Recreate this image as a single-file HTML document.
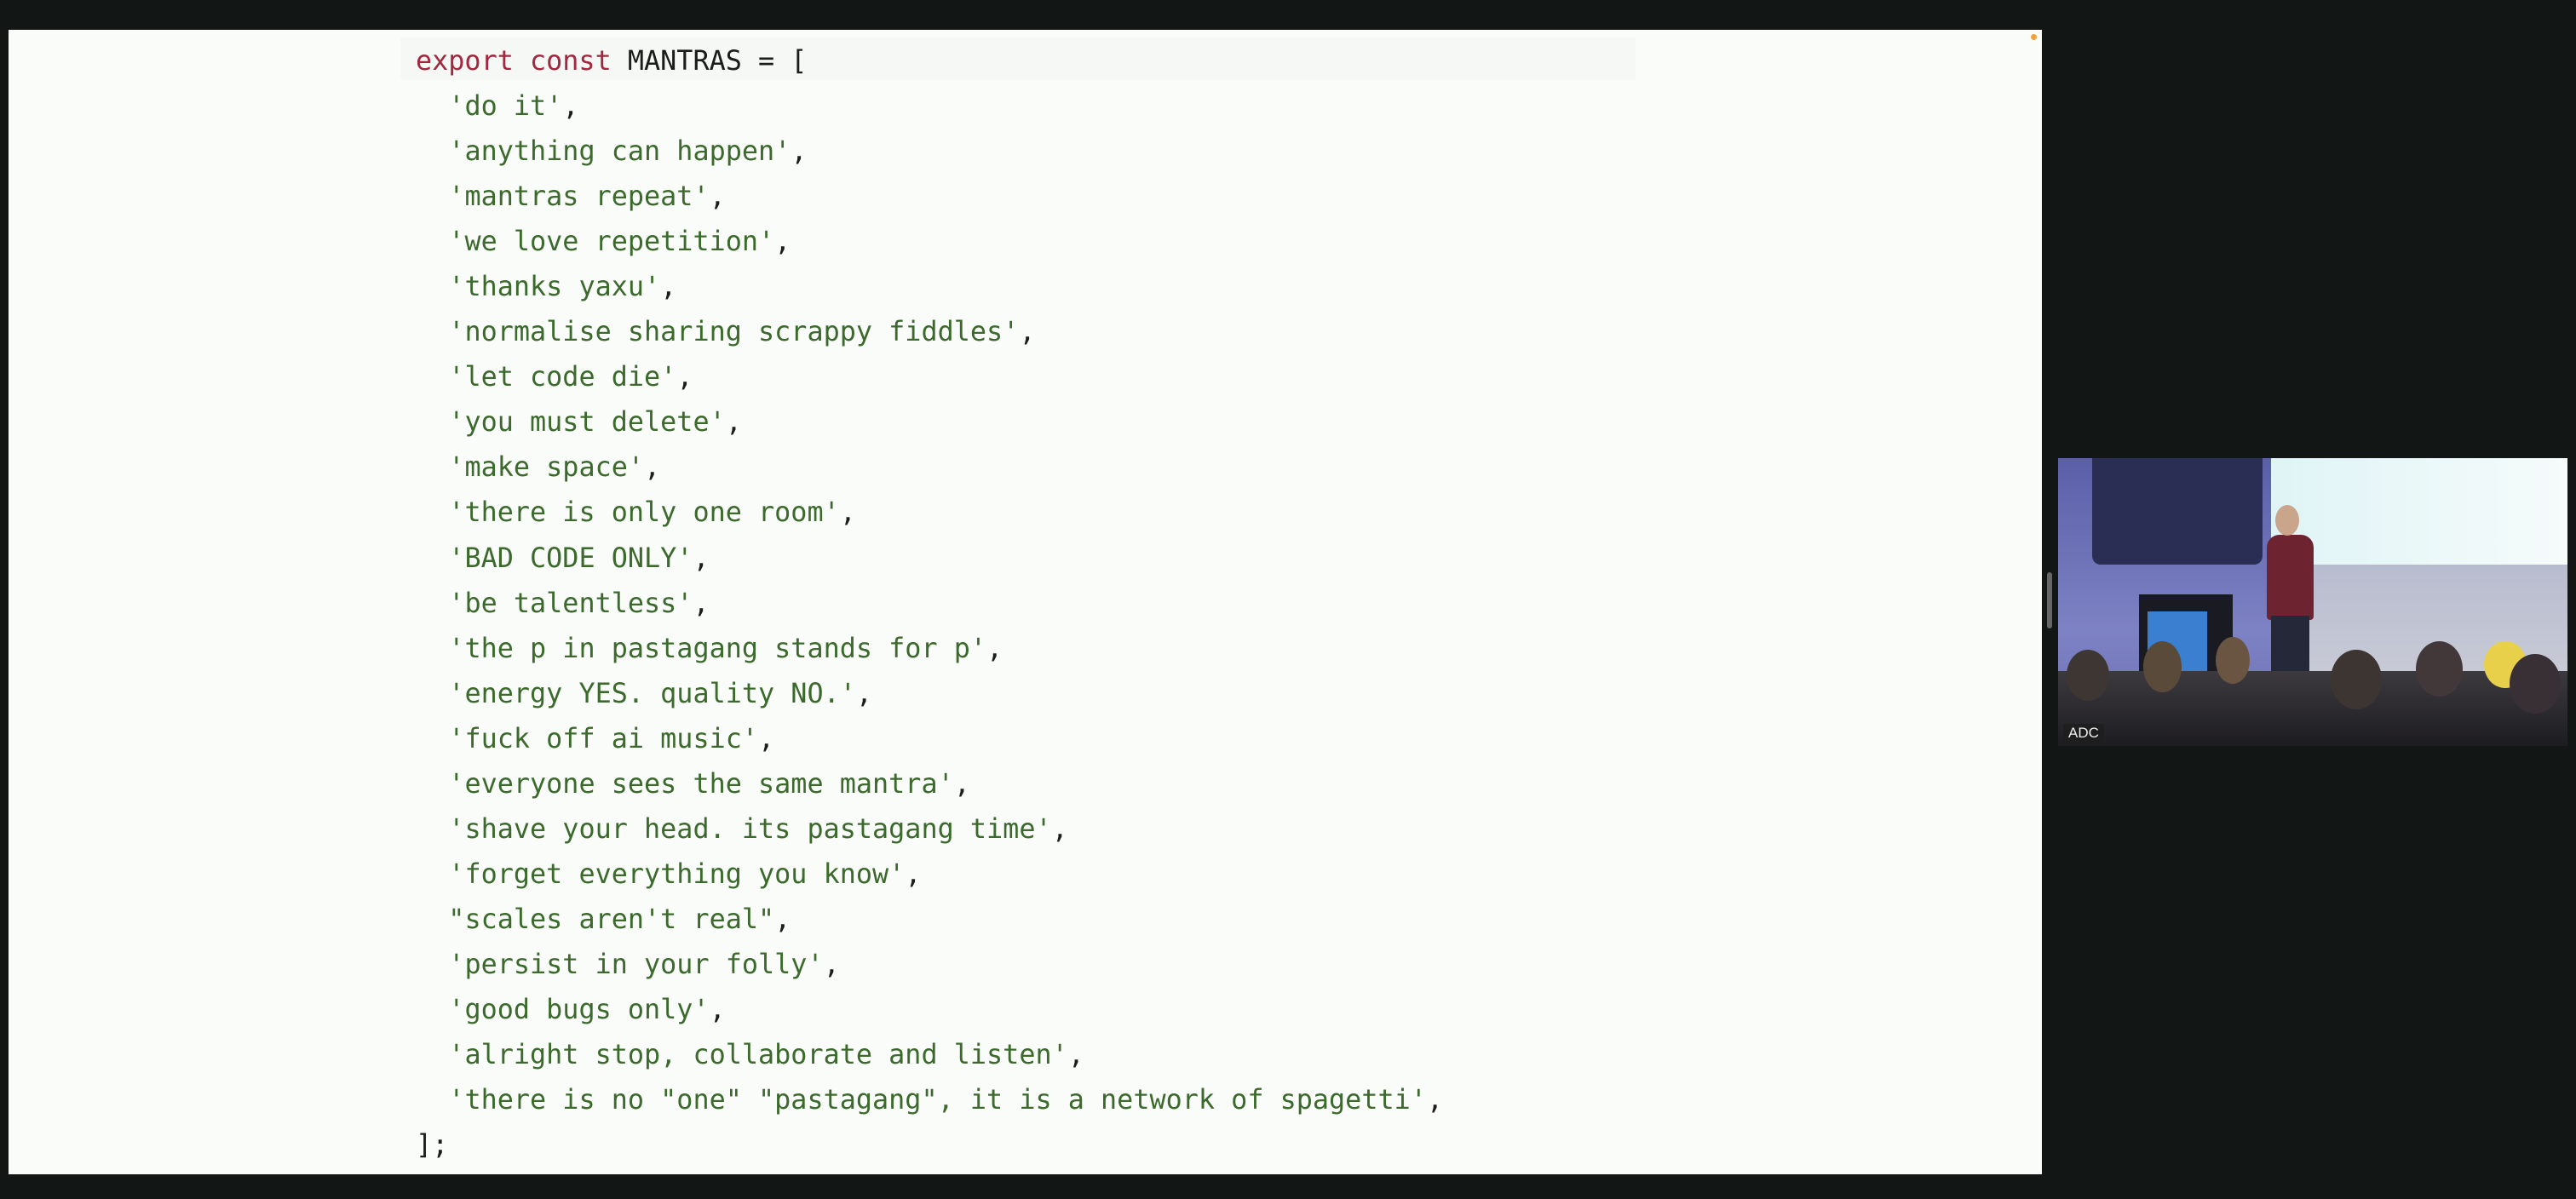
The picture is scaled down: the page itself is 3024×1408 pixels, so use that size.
<!DOCTYPE html>
<html><head><meta charset="utf-8"><style>
html,body{margin:0;padding:0;}
body{width:3024px;height:1408px;background:#121615;position:relative;overflow:hidden;}
#panel{position:absolute;left:10px;top:35px;width:2387px;height:1344px;background:#fafcfa;}
#hl{position:absolute;left:470px;top:44px;width:1450px;height:50px;background:#f6f8f6;}
#code{position:absolute;left:488px;top:45px;font-family:"DejaVu Sans Mono","Liberation Mono",monospace;font-size:31.8px;line-height:53.04px;white-space:pre;color:#1c1c1c;}
.k{color:#a1283f}.s{color:#3b6a2c}
#dot{position:absolute;left:2384px;top:40px;width:7px;height:7px;border-radius:50%;background:#f0a040;}
#vid{position:absolute;left:2416px;top:538px;width:598px;height:338px;overflow:hidden;background:#6a6fae;}
#sb{position:absolute;left:2403px;top:672px;width:6px;height:66px;background:#666;border-radius:3px;}
.b{position:absolute;}
</style></head><body>
<div id="panel"></div>
<div id="hl"></div>
<div id="dot"></div>
<div id="code"><span class="k">export const</span> MANTRAS = [
  <span class="s">'do it'</span>,
  <span class="s">'anything can happen'</span>,
  <span class="s">'mantras repeat'</span>,
  <span class="s">'we love repetition'</span>,
  <span class="s">'thanks yaxu'</span>,
  <span class="s">'normalise sharing scrappy fiddles'</span>,
  <span class="s">'let code die'</span>,
  <span class="s">'you must delete'</span>,
  <span class="s">'make space'</span>,
  <span class="s">'there is only one room'</span>,
  <span class="s">'BAD CODE ONLY'</span>,
  <span class="s">'be talentless'</span>,
  <span class="s">'the p in pastagang stands for p'</span>,
  <span class="s">'energy YES. quality NO.'</span>,
  <span class="s">'fuck off ai music'</span>,
  <span class="s">'everyone sees the same mantra'</span>,
  <span class="s">'shave your head. its pastagang time'</span>,
  <span class="s">'forget everything you know'</span>,
  <span class="s">"scales aren't real"</span>,
  <span class="s">'persist in your folly'</span>,
  <span class="s">'good bugs only'</span>,
  <span class="s">'alright stop, collaborate and listen'</span>,
  <span class="s">'there is no "one" "pastagang", it is a network of spagetti'</span>,
];</div>
<div id="sb"></div>
<div id="vid">
  <div class="b" style="left:0;top:0;width:260px;height:338px;background:linear-gradient(180deg,#5a5fa8,#7d82c4 60%,#6b6fb0);"></div>
  <div class="b" style="left:40px;top:0;width:200px;height:125px;background:#2a2e55;border-radius:0 0 10px 10px;"></div>
  <div class="b" style="left:250px;top:0;width:348px;height:125px;background:linear-gradient(90deg,#dff4f6,#f6fbfb);"></div>
  <div class="b" style="left:250px;top:125px;width:348px;height:140px;background:linear-gradient(180deg,#b8bccf,#c9ccd6);"></div>
  <div class="b" style="left:95px;top:160px;width:110px;height:120px;background:#1a1a22;"></div>
  <div class="b" style="left:105px;top:180px;width:70px;height:80px;background:#3a7fd0;"></div>
  <div class="b" style="left:245px;top:90px;width:55px;height:100px;background:#6e2430;border-radius:15px 15px 4px 4px;"></div>
  <div class="b" style="left:250px;top:185px;width:45px;height:145px;background:#252838;"></div>
  <div class="b" style="left:255px;top:55px;width:28px;height:36px;background:#c9a58c;border-radius:50%;"></div>
  <div class="b" style="left:0;top:250px;width:598px;height:88px;background:linear-gradient(180deg,#3c3a3e,#1d1c20);"></div>
  <div class="b" style="left:10px;top:225px;width:50px;height:60px;background:#3e3632;border-radius:50%;"></div>
  <div class="b" style="left:100px;top:215px;width:45px;height:60px;background:#5a4a3a;border-radius:50%;"></div>
  <div class="b" style="left:185px;top:210px;width:40px;height:55px;background:#6a5542;border-radius:50%;"></div>
  <div class="b" style="left:320px;top:225px;width:60px;height:70px;background:#3d3532;border-radius:50%;"></div>
  <div class="b" style="left:420px;top:215px;width:55px;height:65px;background:#42383a;border-radius:50%;"></div>
  <div class="b" style="left:500px;top:215px;width:50px;height:55px;background:#e9d04a;border-radius:50%;"></div>
  <div class="b" style="left:530px;top:230px;width:60px;height:70px;background:#383034;border-radius:50%;"></div>
  <div class="b" style="left:6px;top:312px;width:48px;height:22px;background:rgba(30,30,30,0.8);border-radius:3px;color:#eee;font-family:'Liberation Sans',sans-serif;font-size:17px;line-height:22px;text-align:center;">ADC</div>
</div>
</body></html>
